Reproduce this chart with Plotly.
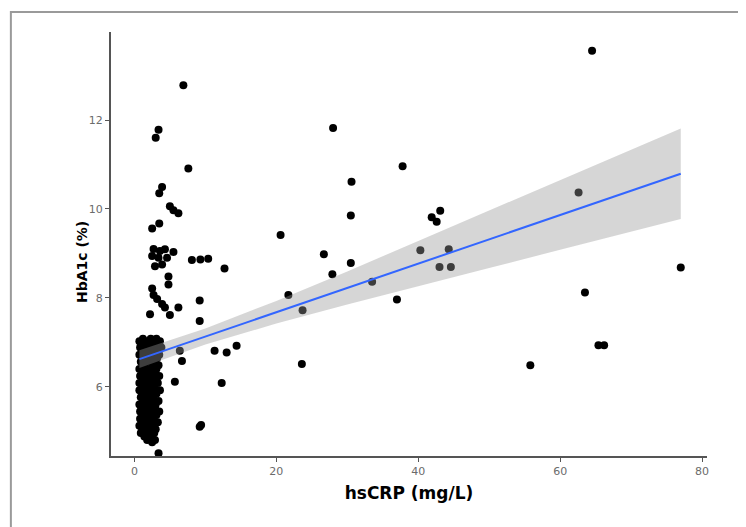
import plotly.graph_objects as go

# hsCRP (mg/L) vs HbA1c (%)
hscrp = [
    64.5, 6.9, 3.4, 3.0, 28.0, 7.6, 37.8, 3.9, 3.5, 30.6, 62.6,
    5.0, 5.5, 6.2, 30.5, 41.9, 42.6, 43.1, 3.5, 2.5, 20.6,
    2.7, 3.6, 4.3, 5.5, 2.5, 3.4, 4.6, 2.9, 3.9,
    8.1, 9.3, 10.4, 12.7, 4.8, 4.8,
    2.5, 2.7, 3.2, 3.9, 4.3, 6.2, 2.2, 5.0, 9.2, 9.2,
    40.3, 44.3, 43.0, 44.6, 30.5, 26.7, 27.9, 21.7, 23.7, 33.5, 37.0,
    23.6, 63.5, 65.4, 66.2, 55.8, 77.0,
    11.3, 13.0, 14.4, 6.4, 6.7, 5.7, 12.3, 9.2, 9.4, 3.4, 2.5,
    # dense column near zero
    1.2, 2.3, 3.1, 0.7, 1.8, 2.7, 3.6, 1.0, 2.0, 3.3, 0.8, 1.5, 2.5, 3.8,
    1.1, 2.2, 3.0, 0.7, 1.7, 2.8, 3.5, 1.3, 2.4, 3.2, 0.9, 1.9, 2.9,
    1.4, 2.6, 3.4, 0.7, 1.6, 2.2, 3.1, 1.2, 2.0, 2.9, 0.8, 1.8, 2.6, 3.5,
    1.3, 2.3, 3.0, 0.7, 1.5, 2.4, 3.3, 1.1, 2.1, 2.8, 0.7, 1.7, 2.5, 3.6,
    1.2, 2.2, 3.1, 0.9, 1.9, 2.7, 1.4, 2.4, 3.4, 0.7, 1.6, 2.3, 3.0,
    1.0, 2.0, 2.9, 0.8, 1.5, 2.6, 3.5, 1.2, 2.2, 3.1, 0.8, 1.8, 2.7,
    1.3, 2.3, 3.3, 0.7, 1.6, 2.5, 1.1, 2.1, 3.0, 0.9, 1.9, 2.8,
    1.4, 2.4, 1.8, 2.9,
]
hba1c = [
    13.56, 12.78, 11.78, 11.60, 11.82, 10.91, 10.96, 10.49, 10.35, 10.61, 10.37,
    10.06, 9.97, 9.90, 9.85, 9.81, 9.71, 9.96, 9.67, 9.56, 9.41,
    9.10, 9.05, 9.09, 9.03, 8.94, 8.90, 8.90, 8.71, 8.75,
    8.85, 8.86, 8.88, 8.66, 8.48, 8.30,
    8.21, 8.06, 7.97, 7.86, 7.78, 7.78, 7.63, 7.61, 7.94, 7.48,
    9.07, 9.09, 8.69, 8.69, 8.78, 8.98, 8.53, 8.06, 7.72, 8.36, 7.96,
    6.51, 8.12, 6.93, 6.93, 6.48, 8.68,
    6.81, 6.77, 6.92, 6.81, 6.58, 6.11, 6.08, 5.10, 5.14, 4.50, 4.75,
    # dense column near zero
    7.08, 7.08, 7.08, 7.02, 7.02, 7.02, 7.02, 6.95, 6.95, 6.95, 6.88, 6.88, 6.88, 6.88,
    6.80, 6.80, 6.80, 6.72, 6.72, 6.72, 6.72, 6.64, 6.64, 6.64, 6.56, 6.56, 6.56,
    6.48, 6.48, 6.48, 6.40, 6.40, 6.40, 6.40, 6.32, 6.32, 6.32, 6.24, 6.24, 6.24, 6.24,
    6.16, 6.16, 6.16, 6.08, 6.08, 6.08, 6.08, 6.00, 6.00, 6.00, 5.92, 5.92, 5.92, 5.92,
    5.84, 5.84, 5.84, 5.76, 5.76, 5.76, 5.68, 5.68, 5.68, 5.60, 5.60, 5.60, 5.60,
    5.52, 5.52, 5.52, 5.44, 5.44, 5.44, 5.44, 5.36, 5.36, 5.36, 5.28, 5.28, 5.28,
    5.20, 5.20, 5.20, 5.12, 5.12, 5.12, 5.04, 5.04, 5.04, 4.96, 4.96, 4.96,
    4.88, 4.88, 4.80, 4.80,
]

# linear fit and 95% band
fit_x = [0.7, 10, 20, 30, 40, 50, 60, 70, 77.0]
fit_y = [6.62, 7.13, 7.67, 8.22, 8.77, 9.32, 9.86, 10.41, 10.79]
fit_lo = [6.42, 6.95, 7.42, 7.85, 8.26, 8.67, 9.08, 9.49, 9.77]
fit_hi = [6.82, 7.31, 7.93, 8.59, 9.28, 9.96, 10.64, 11.33, 11.81]

fig = go.Figure()
fig.add_trace(go.Scatter(x=hscrp, y=hba1c, mode='markers',
                         marker=dict(color='black', size=8), showlegend=False))
fig.add_trace(go.Scatter(x=fit_x + fit_x[::-1], y=fit_hi + fit_lo[::-1],
                         fill='toself', fillcolor='rgba(153,153,153,0.4)',
                         line=dict(width=0), mode='lines', showlegend=False))
fig.add_trace(go.Scatter(x=fit_x, y=fit_y, mode='lines',
                         line=dict(color='#3366FF', width=2), showlegend=False))

axis_style = dict(showline=True, linecolor='#555555', linewidth=2,
                  ticks='outside', ticklen=4, tickcolor='#555555', tickwidth=1,
                  showgrid=False, zeroline=False,
                  tickfont=dict(family='DejaVu Sans', size=11, color='#6b6b6b'))

fig.update_xaxes(range=[-3.3, 80.7], tickvals=[0, 20, 40, 60, 80],
                 title=dict(text='<b>hsCRP (mg/L)</b>', standoff=10,
                            font=dict(family='DejaVu Sans', size=17, color='black')),
                 **axis_style)
fig.update_yaxes(range=[4.44, 13.98], tickvals=[6, 8, 10, 12], **axis_style)

# y title sits a bit below the panel centre in the reference
fig.add_annotation(text='<b>HbA1c (%)</b>', xref='paper', yref='paper',
                   x=-0.0654, y=0.4575, textangle=-90, showarrow=False,
                   font=dict(family='DejaVu Sans', size=14, color='black'))

# grey frame around the picture (top and left edges visible)
fig.add_shape(type='rect', xref='paper', yref='paper',
              x0=-0.168, x1=1.2, y0=-0.3, y1=1.047,
              line=dict(color='#9a9a9a', width=2), fillcolor='rgba(0,0,0,0)')

# page body has an 8px margin, so the figure is 8px smaller than the window
fig.update_layout(width=738, height=519,
                  margin=dict(l=103, r=39, t=24, b=71),
                  plot_bgcolor='white', paper_bgcolor='white')

fig.write_html("out.html")
